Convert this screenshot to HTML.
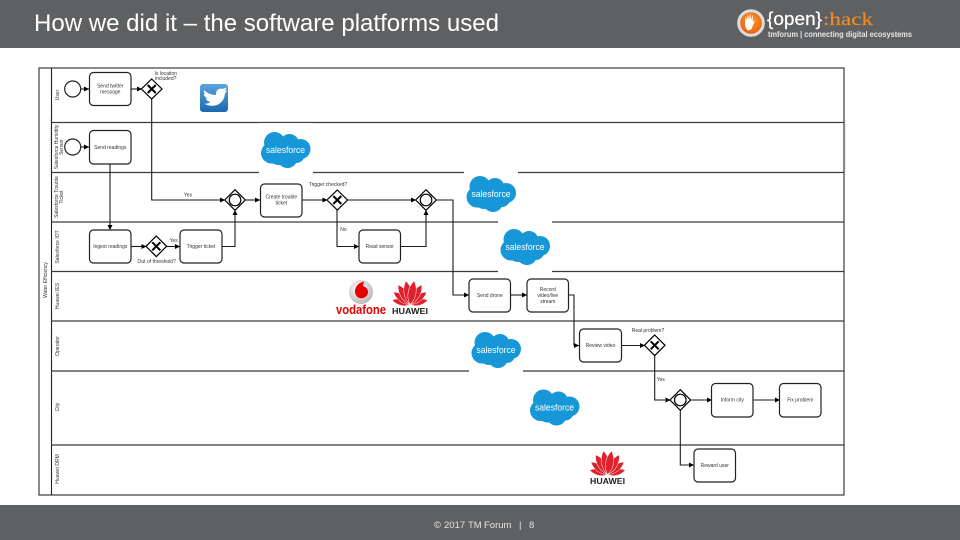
<!DOCTYPE html>
<html><head><meta charset="utf-8"><style>
html,body{margin:0;padding:0;background:#fff}
svg{display:block;font-family:"Liberation Sans",sans-serif}
.b{fill:#fff;stroke:#222;stroke-width:1.2}
.l{fill:none;stroke:#1a1a1a;stroke-width:1.1}
.lane{stroke:#3c3c3c;stroke-width:1.2}
.t{font-size:5px;fill:#333;text-anchor:middle}
.a{fill:#000}
.g{fill:#fff;stroke:#000;stroke-width:1.2}
.x{stroke:#000;stroke-width:2;fill:none}
.sf{font-size:9px;fill:#fff;text-anchor:middle}
.hw{font-size:8px;font-weight:bold;fill:#222;text-anchor:middle}
</style></head><body>
<svg width="960" height="540" viewBox="0 0 960 540" xmlns="http://www.w3.org/2000/svg">
<defs>
<linearGradient id="tw" x1="0" y1="0" x2="0" y2="1"><stop offset="0" stop-color="#5aa5dc"/><stop offset="1" stop-color="#1c69b0"/></linearGradient>
<radialGradient id="vf" cx=".4" cy=".35" r=".75"><stop offset="0" stop-color="#fff"/><stop offset="1" stop-color="#b0b0b0"/></radialGradient>
<radialGradient id="og" cx=".5" cy=".4" r=".7"><stop offset="0" stop-color="#fa9a1c"/><stop offset="1" stop-color="#e8501a"/></radialGradient>
<g id="cloud" fill="#1797d8"><circle cx="-11" cy="-7.500" r="10.500"/><circle cx="4" cy="-6.500" r="9.500"/><circle cx="15" cy="-1" r="10"/><circle cx="2" cy="8" r="10"/><circle cx="-14" cy="3" r="10.500"/><circle cx="11" cy="5" r="8"/><circle cx="-7" cy="5" r="10"/></g>
<path id="pt" d="M0 0C-5.500-7-5-17 0-24 5-17 5.500-7 0 0z" stroke="#fff" stroke-width=".5"/>
<g id="petals" fill="#e0202a">
<use href="#pt" transform="rotate(-76) scale(.76)"/><use href="#pt" transform="rotate(76) scale(.76)"/>
<use href="#pt" transform="rotate(-53) scale(.86)"/><use href="#pt" transform="rotate(53) scale(.86)"/>
<use href="#pt" transform="rotate(-31) scale(.96)"/><use href="#pt" transform="rotate(31) scale(.96)"/>
<use href="#pt" transform="rotate(-10)"/><use href="#pt" transform="rotate(10)"/>
</g>
</defs>

<rect x="0" y="0" width="960" height="48" fill="#5f6062"/>
<rect x="0" y="505" width="960" height="35" fill="#5f6062"/>
<text x="34" y="31" font-size="24" fill="#fff" textLength="465" lengthAdjust="spacingAndGlyphs">How we did it – the software platforms used</text>

<!-- logo -->
<circle cx="751" cy="23" r="12.300" fill="url(#og)" stroke="#dcdcdc" stroke-width="3"/>
<path d="M745 22l.6-6 1.400 4 .6-6.500 1.400 6.500 1.200-7 .8 7 2-5.500-.3 7.500 2.500-2-2.500 6-1.500 3.500-3.500 1-2.500-4z" fill="#fff"/>
<text x="767" y="25" font-size="18" fill="#fff" stroke="#fff" stroke-width=".25" textLength="55" lengthAdjust="spacingAndGlyphs">{open}</text>
<text x="823" y="25" font-size="18" fill="#f08a24" stroke="#f08a24" stroke-width=".2" font-family="Liberation Serif,serif" textLength="50" lengthAdjust="spacingAndGlyphs">:hack</text>
<text x="768" y="37" font-size="8" font-weight="bold" fill="#e8e8e8" textLength="144" lengthAdjust="spacingAndGlyphs">tmforum | connecting digital ecosystems</text>

<!-- footer -->
<g font-size="9.500" fill="#e4e4e4">
<text x="434" y="528">©</text><text x="444" y="528">2017</text><text x="468" y="528">TM</text><text x="484" y="528">Forum</text><text x="519" y="528">|</text><text x="529" y="528">8</text>
</g>

<g style="filter:blur(.35px)">
<!-- pool -->
<rect x="39" y="68" width="805" height="427" fill="#fff" stroke="#3c3c3c" stroke-width="1.200"/>
<line x1="51.500" y1="68" x2="51.500" y2="495" stroke="#222" stroke-width="1.100"/>
<g class="lane">
<line x1="51" y1="122.500" x2="844" y2="122.500"/>
<line x1="51" y1="172.500" x2="844" y2="172.500"/>
<line x1="51" y1="222" x2="844" y2="222"/>
<line x1="51" y1="271.500" x2="844" y2="271.500"/>
<line x1="51" y1="321" x2="844" y2="321"/>
<line x1="51" y1="371" x2="844" y2="371"/>
<line x1="51" y1="445" x2="844" y2="445"/>
</g>
<line x1="50" y1="118" x2="50" y2="176" stroke="#cdd6ee" stroke-width="1" stroke-dasharray="1 1"/>
<line x1="845.500" y1="120" x2="845.500" y2="176" stroke="#cdd6ee" stroke-width="1" stroke-dasharray="1 1"/>

<!-- white patches -->
<rect x="259" y="123" width="54" height="51" fill="#fff"/>
<rect x="464" y="171" width="54" height="47" fill="#fff"/>
<rect x="498" y="220.500" width="54" height="52.500" fill="#fff"/>
<rect x="469" y="322" width="54" height="50.500" fill="#fff"/>

<!-- lane labels -->
<g class="t">
<text transform="translate(59,95) rotate(-90)">User</text>
<text transform="translate(58,147) rotate(-90)">Salesforce Humidity</text>
<text transform="translate(63,147) rotate(-90)">Sensor</text>
<text transform="translate(58,197) rotate(-90)">Salesforce Trouble</text>
<text transform="translate(63,197) rotate(-90)">Ticket</text>
<text transform="translate(59,247) rotate(-90)">Salesforce IOT</text>
<text transform="translate(59,296) rotate(-90)">Huawei IES</text>
<text transform="translate(59,346) rotate(-90)">Operator</text>
<text transform="translate(59,407) rotate(-90)">City</text>
<text transform="translate(59,469) rotate(-90)">Huawei DRM</text>
<text transform="translate(47,280) rotate(-90)">Water Efficiency</text>
</g>

<!-- connectors -->
<g class="l">
<path d="M81 89H89"/><path d="M131 89H142"/>
<path d="M81 147H89"/>
<path d="M151.700 99V200H225"/>
<path d="M110 164V230"/>
<path d="M131 246.500H146.500"/><path d="M166 246.500H180"/>
<path d="M222 246.500H235V210"/>
<path d="M245 200H260"/><path d="M302 200H327.500"/>
<path d="M347 200H416"/>
<path d="M337 210V246.500H359"/>
<path d="M401 246.500H426V210"/>
<path d="M436 200H453V295H469"/>
<path d="M511 295H527"/>
<path d="M568 295H574V345.500H579"/>
<path d="M622 345.500H645"/>
<path d="M654.700 355V400H670.500"/>
<path d="M690 400H712"/>
<path d="M753 400H780"/>
<path d="M680.300 410V465H694"/>
</g>
<!-- arrowheads -->
<g class="a">
<path d="M89 89l-5-2.500v5z"/><path d="M142 89l-5-2.500v5z"/><path d="M89 147l-5-2.500v5z"/>
<path d="M225 200l-5-2.500v5z"/><path d="M110 230l-2.500-5h5z"/>
<path d="M146.500 246.500l-5-2.500v5z"/><path d="M180 246.500l-5-2.500v5z"/>
<path d="M235 210l-2.500 5h5z"/><path d="M260 200l-5-2.500v5z"/>
<path d="M327.500 200l-5-2.500v5z"/><path d="M416 200l-5-2.500v5z"/>
<path d="M359 246.500l-5-2.500v5z"/><path d="M426 210l-2.500 5h5z"/>
<path d="M469 295l-5-2.500v5z"/><path d="M527 295l-5-2.500v5z"/>
<path d="M579 345.500l-5-2.500v5z"/><path d="M645 345.500l-5-2.500v5z"/>
<path d="M670.500 400l-5-2.500v5z"/><path d="M712 400l-5-2.500v5z"/>
<path d="M780 400l-5-2.500v5z"/><path d="M694 465l-5-2.500v5z"/>
</g>

<!-- start events -->
<circle cx="72.700" cy="89" r="8" class="b"/>
<circle cx="72.700" cy="147" r="8" class="b"/>

<!-- tasks -->
<g class="b">
<rect x="89.500" y="72.500" width="41.500" height="33" rx="4"/>
<rect x="89.500" y="130.500" width="41.500" height="33.500" rx="4"/>
<rect x="89.500" y="230" width="41.500" height="33" rx="4"/>
<rect x="180" y="230" width="42" height="33" rx="4"/>
<rect x="260.500" y="184" width="41.500" height="33" rx="4"/>
<rect x="359" y="230" width="41.500" height="33" rx="4"/>
<rect x="469" y="279" width="41.500" height="33" rx="4"/>
<rect x="527" y="279" width="41.500" height="33" rx="4"/>
<rect x="579.500" y="329" width="42" height="33" rx="4"/>
<rect x="711.500" y="383.500" width="41.500" height="33.500" rx="4"/>
<rect x="779.500" y="383.500" width="41.500" height="33.500" rx="4"/>
<rect x="694" y="449" width="41.500" height="33" rx="4"/>
</g>

<!-- XOR gateways -->
<g class="g">
<path d="M151.700 79l10.300 10-10.300 10-10.300-10z"/>
<path d="M156.300 236l10.300 10.300-10.300 10.300-10.300-10.300z"/>
<path d="M337.300 190l10.300 10-10.300 10-10.300-10z"/>
<path d="M654.700 335l10.300 10.300-10.300 10.300-10.300-10.300z"/>
</g>
<g class="x">
<path d="M147.700 85l8 8M155.700 85l-8 8"/>
<path d="M152.300 242.300l8 8M160.300 242.300l-8 8"/>
<path d="M333.300 196l8 8M341.300 196l-8 8"/>
<path d="M650.700 341.300l8 8M658.700 341.300l-8 8"/>
</g>
<!-- circle gateways -->
<g class="g">
<path d="M235 189.700l10.300 10.300-10.300 10.300-10.300-10.300z"/><circle cx="235" cy="200" r="5.800"/>
<path d="M426 189.700l10.300 10.300-10.300 10.300-10.300-10.300z"/><circle cx="426" cy="200" r="5.800"/>
<path d="M680.300 389.700l10.300 10.300-10.300 10.300-10.300-10.300z"/><circle cx="680.300" cy="400" r="5.800"/>
</g>

<!-- task text -->
<g class="t">
<text x="110.300" y="87.500">Send twitter</text><text x="110.300" y="93.500">message</text>
<text x="110.300" y="149">Send readings</text>
<text x="110.300" y="248">Ingest readings</text>
<text x="201" y="248">Trigger ticket</text>
<text x="281.300" y="198.500">Create trouble</text><text x="281.300" y="204.500">ticket</text>
<text x="379.800" y="248">Read sensor</text>
<text x="489.800" y="297">Send drone</text>
<text x="547.800" y="291">Record</text><text x="547.800" y="297">video/live</text><text x="547.800" y="303">stream</text>
<text x="600.500" y="347">Review video</text>
<text x="732.300" y="401.500">Inform city</text>
<text x="800.300" y="401.500">Fix problem</text>
<text x="714.800" y="467">Reward user</text>
<text x="165.700" y="75">Is location</text><text x="165.700" y="80">included?</text>
<text x="188" y="196.500">Yes</text>
<text x="156.700" y="263">Out of threshold?</text>
<text x="173.700" y="242">Yes</text>
<text x="328" y="186">Trigger checked?</text>
<text x="343.500" y="231">No</text>
<text x="648" y="332">Real problem?</text>
<text x="660.700" y="381">Yes</text>
</g>

<!-- twitter -->
<rect x="200" y="84" width="28" height="28" rx="3" fill="url(#tw)"/>
<g transform="translate(216,97) scale(1.35) translate(-216,-97)">
<path d="M207 92c3 2.500 6 3.500 9 3.500-.5-3 2-5.500 5-4.500l3-1-1.500 2.500 2-.5-2 2.500c0 5-4 9-9.500 9-2 0-4-.5-5.500-1.500 2 0 3.500-.5 4.500-1.500-2 0-3-1-3.500-2.500h1.500c-2-.7-3-2-3-3.500l1.500.5c-1.500-1-2-2.500-1-4z" fill="#fff"/>
</g>

<!-- salesforce logos -->
<g transform="translate(285.500,150)"><use href="#cloud"/><text class="sf" y="3" textLength="39" lengthAdjust="spacingAndGlyphs">salesforce</text></g>
<g transform="translate(491,194)"><use href="#cloud"/><text class="sf" y="3" textLength="39" lengthAdjust="spacingAndGlyphs">salesforce</text></g>
<g transform="translate(525,247)"><use href="#cloud"/><text class="sf" y="3" textLength="39" lengthAdjust="spacingAndGlyphs">salesforce</text></g>
<g transform="translate(496,350)"><use href="#cloud"/><text class="sf" y="3" textLength="39" lengthAdjust="spacingAndGlyphs">salesforce</text></g>
<g transform="translate(554.500,407.500)"><use href="#cloud"/><text class="sf" y="3" textLength="39" lengthAdjust="spacingAndGlyphs">salesforce</text></g>

<!-- vodafone -->
<circle cx="361" cy="292" r="12" fill="url(#vf)"/>
<path d="M364 281.500c-5 1-9 5-9 10 0 4 3 6.800 6.500 6.800s6.500-3 6.500-6.300c0-3.500-2.500-5-5-6 0-1.800 1-3.500 1-4.500z" fill="#e60000"/>
<text x="361" y="314" font-size="13" font-weight="bold" fill="#e60000" text-anchor="middle" textLength="50" lengthAdjust="spacingAndGlyphs">vodafone</text>

<!-- huawei -->
<g transform="translate(410,304.500)"><use href="#petals"/></g>
<text x="410" y="314" class="hw" textLength="36" lengthAdjust="spacingAndGlyphs">HUAWEI</text>
<g transform="translate(607.500,474.500)"><use href="#petals"/></g>
<text x="607.500" y="484" class="hw" textLength="35" lengthAdjust="spacingAndGlyphs">HUAWEI</text>
</g>
</svg>
</body></html>
